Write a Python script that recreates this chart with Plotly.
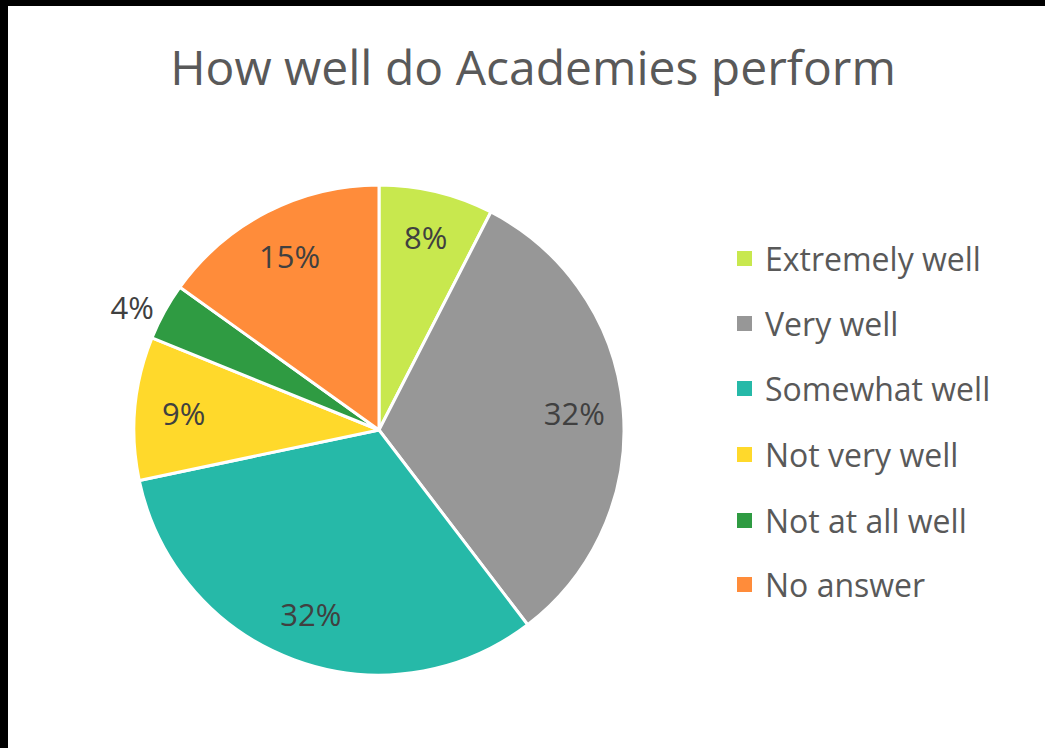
import plotly.graph_objects as go

# survey answers (counts) -> shown as rounded percentages
labels = ['Extremely well', 'Very well', 'Somewhat well', 'Not very well', 'Not at all well', 'No answer']
counts = [4, 17, 17, 5, 2, 8]
colors = ['#C8E84E', '#979797', '#26B9A8', '#FFD92B', '#2F9B42', '#FF8C3A']
text_pos = ['inside', 'inside', 'inside', 'inside', 'outside', 'inside']

W, H = 1045, 748
font = 'Open Sans, Noto Sans, sans-serif'
pie_domain = dict(x=[(379 - 245) / W, (379 + 245) / W],
                  y=[(748 - 430 - 245) / H, (748 - 430 + 245) / H])

fig = go.Figure()
# the slices
fig.add_trace(go.Pie(
    labels=labels, values=counts, sort=False, direction='clockwise', rotation=0,
    marker=dict(colors=colors, line=dict(color='white', width=3)),
    textinfo='none', domain=pie_domain,
    showlegend=False, hoverinfo='label+percent'))
# transparent ring on top, only to push the % labels out towards the rim
fig.add_trace(go.Pie(
    labels=labels, values=counts, sort=False, direction='clockwise', rotation=0, hole=0.6,
    marker=dict(colors=['rgba(0,0,0,0)'] * len(labels), line=dict(width=0)),
    texttemplate='%{percent:.0%}', textposition=text_pos,
    insidetextorientation='horizontal',
    textfont=dict(family=font, size=31, color='#404040'),
    domain=pie_domain, showlegend=False, hoverinfo='skip'))

# hand-built legend so the row spacing matches the original
shapes = [
    dict(type='rect', xref='paper', yref='paper', x0=0, x1=8 / W, y0=0, y1=1,
         fillcolor='black', line_width=0),
    dict(type='rect', xref='paper', yref='paper', x0=0, x1=1, y0=1 - 6 / H, y1=1,
         fillcolor='black', line_width=0),
]
annotations = []
row_y = [258, 323, 388, 454, 520, 584]
for lab, col, yy in zip(labels, colors, row_y):
    shapes.append(dict(type='rect', xref='paper', yref='paper',
                       x0=737 / W, x1=752 / W, y0=1 - (yy + 8) / H, y1=1 - (yy - 7) / H,
                       fillcolor=col, line_width=0))
    annotations.append(dict(text=lab, xref='paper', yref='paper', x=763 / W, y=1 - yy / H,
                            xanchor='left', yanchor='middle', showarrow=False,
                            font=dict(family=font, size=32, color='#595959')))

fig.update_layout(
    width=W, height=H,
    margin=dict(t=0, b=0, l=0, r=0),
    paper_bgcolor='white', plot_bgcolor='white',
    title=dict(text='How well do Academies perform', x=533 / W, xanchor='center',
               y=1 - 68 / H, yanchor='middle',
               font=dict(family=font, size=48, color='#595959')),
    shapes=shapes, annotations=annotations)

fig.write_html("out.html", config={'displayModeBar': False},
               post_script="document.body.style.margin='0';")
